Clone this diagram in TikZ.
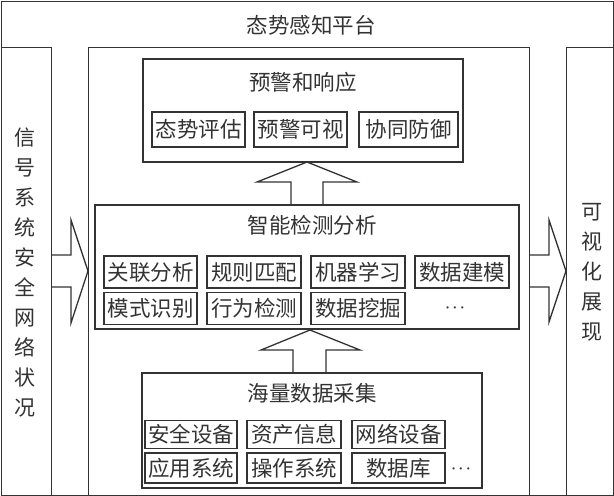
\documentclass[tikz,border=0pt]{standalone}
\usepackage{fontspec}
\setmainfont{Noto Sans CJK SC}
\definecolor{lc}{HTML}{333333}
\begin{document}
\begin{tikzpicture}[x=1pt,y=-1pt,
  frame/.style={draw=lc, line width=1.3pt, inner sep=0pt, anchor=north west},
  grp/.style={draw=lc, line width=1.3pt, inner sep=0pt},
  item/.style={draw=lc, line width=1.5pt, inner sep=0pt, minimum height=31pt, text=lc, font=\fontsize{21.5}{24}\selectfont},
  ttl/.style={text=lc, inner sep=0pt, font=\fontsize{21.5}{24}\selectfont},
  dots/.style={text=lc, inner sep=0pt, font=\fontsize{15}{16}\selectfont\boldmath},
  vtxt/.style={text=lc, inner sep=0pt, align=center, font=\fontsize{21}{30}\selectfont},
  blk/.style={draw=lc, line width=1.3pt, line join=miter}
]
\useasboundingbox (0,0) rectangle (614,496);
% frames
\node[frame, minimum width=612.5pt, minimum height=494.5pt] (outer) at (0.75,0.75) {};
\node[frame, minimum width=50.25pt, minimum height=448.25pt] (leftbox) at (0.75,47) {};
\node[frame, minimum width=441pt, minimum height=448.25pt] (centerbox) at (88,47) {};
\node[frame, minimum width=47.25pt, minimum height=448.25pt] (rightbox) at (566,47) {};
\node[ttl] (platform) at (311,25) {态势感知平台};
\node[vtxt] (lefttxt) at (25,273) {信\\号\\系\\统\\安\\全\\网\\络\\状\\况};
\node[vtxt] (righttxt) at (592,272) {可\\视\\化\\展\\现};
% top group
\node[grp, minimum width=320pt, minimum height=103pt] (topg) at (303,110.5) {};
\node[ttl] (toptitle) at (303,82) {预警和响应};
\node[item, minimum width=93pt, minimum height=35pt] (t1) at (198.5,129.5) {态势评估};
\node[item, minimum width=93pt, minimum height=35pt] (t2) at (300.5,129.5) {预警可视};
\node[item, minimum width=99pt, minimum height=35pt] (t3) at (408.5,129.5) {协同防御};
% middle group
\node[grp, minimum width=424pt, minimum height=124pt] (midg) at (307,267) {};
\node[ttl] (midtitle) at (312,225) {智能检测分析};
\node[item, minimum width=93pt, minimum height=32pt] (m1) at (150.5,272) {关联分析};
\node[item, minimum width=94pt, minimum height=32pt] (m2) at (254,272) {规则匹配};
\node[item, minimum width=94pt, minimum height=32pt] (m3) at (358,272) {机器学习};
\node[item, minimum width=94pt, minimum height=32pt] (m4) at (462,272) {数据建模};
\node[item, minimum width=93pt, minimum height=32pt] (m5) at (150.5,308.5) {模式识别};
\node[item, minimum width=94pt, minimum height=32pt] (m6) at (254,308.5) {行为检测};
\node[item, minimum width=94pt, minimum height=32pt] (m7) at (358,308.5) {数据挖掘};
\node[dots] (m8) at (455,308) {$\cdots$};
% bottom group
\node[grp, minimum width=340pt, minimum height=115pt] (botg) at (312,430.5) {};
\node[ttl] (bottitle) at (312,393) {海量数据采集};
\node[item, minimum width=92pt, minimum height=28pt] (b1) at (191,434.5) {安全设备};
\node[item, minimum width=94pt, minimum height=28pt] (b2) at (294,434.5) {资产信息};
\node[item, minimum width=93pt, minimum height=28pt] (b3) at (398.5,434.5) {网络设备};
\node[item, minimum width=92pt, minimum height=30pt] (b4) at (191,468) {应用系统};
\node[item, minimum width=94pt, minimum height=30pt] (b5) at (294,468) {操作系统};
\node[item, minimum width=93pt, minimum height=30pt] (b6) at (398.5,468) {数据库};
\node[dots] (b7) at (461,469) {$\cdots$};
% block arrows
\draw[blk] (291,205) -- (291,182) -- (257,182) -- (307,162) -- (357,182) -- (323,182) -- (323,205);
\draw[blk] (293,373) -- (293,350) -- (261,350) -- (310,330) -- (360,350) -- (326,350) -- (326,373);
\draw[blk] (51,255) -- (71,255) -- (71,220) -- (88,271) -- (71,323) -- (71,287) -- (51,287);
\draw[blk] (529,255) -- (549,255) -- (549,220) -- (566,271) -- (549,322) -- (549,287) -- (529,287);
\end{tikzpicture}
\end{document}
